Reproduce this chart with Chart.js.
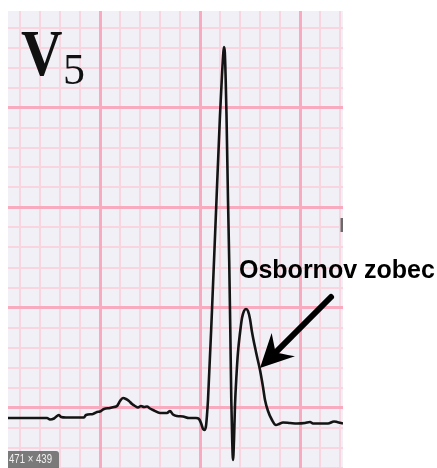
<!DOCTYPE html>
<html><head><meta charset="utf-8">
<script src="https://cdn.jsdelivr.net/npm/chart.js@4.4.1/dist/chart.umd.min.js"></script>
<style>
html,body{margin:0;padding:0;background:#fff;}
#wrap{position:relative;width:437px;height:468px;overflow:hidden;background:#fff;}
canvas{position:absolute;left:0;top:0;}
.lead{position:absolute;font-family:"Liberation Serif","Times New Roman",serif;color:#111;line-height:1;white-space:nowrap;}
#leadV{left:21px;top:20px;font-size:66px;font-weight:bold;transform:scaleX(0.87);transform-origin:0 0;}
#lead5{left:63px;top:48px;font-size:44px;}
#note{position:absolute;left:239px;top:257px;font-family:"Liberation Sans",Arial,sans-serif;font-weight:bold;font-size:25px;line-height:1;color:#000;white-space:nowrap;}
#dim{position:absolute;left:8px;top:451px;width:51px;height:17px;background:rgba(105,105,105,0.88);border-radius:0 3px 0 0;overflow:hidden;}
#dim span{position:absolute;left:1px;top:0;color:#f2f2f2;font-family:"Liberation Sans",Arial,sans-serif;font-size:12px;line-height:17px;white-space:nowrap;transform:scaleX(0.8);transform-origin:0 0;}
</style></head>
<body><div id="wrap"><canvas id="c" width="437" height="468"></canvas>
<span class="lead" id="leadV">V</span><span class="lead" id="lead5">5</span>
<div id="note">Osbornov zobec</div>
<div id="dim"><span>471 × 439</span></div>
</div>
<script>
// Time axis in mm of paper (25 mm/s), amplitude in mm (10 mm/mV)
const traceX = [0.40,1.00,1.75,2.35,2.50,2.70,2.85,2.95,3.05,3.30,3.75,4.20,4.30,4.65,4.85,5.00,5.20,5.50,5.70,5.85,6.00,6.15,6.30,6.45,6.60,6.75,6.90,7.05,7.20,7.35,7.50,7.70,8.00,8.35,8.50,8.65,8.85,9.15,9.45,9.80,9.95,10.05,10.15,10.225,10.30,10.35,10.40,10.60,10.80,11.00,11.10,11.165,11.20,11.24,11.285,11.325,11.40,11.46,11.515,11.565,11.61,11.65,11.70,11.75,11.825,11.90,12.00,12.10,12.20,12.30,12.40,12.50,12.60,12.80,13.00,13.15,13.25,13.40,13.60,13.80,13.95,14.15,14.50,14.85,15.25,15.50,15.65,16.00,16.40,16.70,16.85,17.15];
const traceY = [-0.525,-0.525,-0.525,-0.525,-0.600,-0.550,-0.425,-0.375,-0.475,-0.500,-0.500,-0.500,-0.375,-0.325,-0.225,-0.200,-0.075,-0.025,0.025,0.075,0.325,0.475,0.425,0.325,0.175,0.075,0.000,0.075,0.025,0.050,-0.050,-0.150,-0.275,-0.275,-0.175,-0.350,-0.425,-0.450,-0.525,-0.525,-0.575,-0.775,-1.075,-1.125,-0.925,-0.375,0.375,4.875,9.775,14.625,16.625,17.725,18.025,17.775,16.375,14.625,10.375,7.375,3.875,0.375,-1.625,-2.625,-1.625,0.125,1.625,2.775,3.725,4.475,4.825,4.925,4.825,4.425,3.775,2.775,1.875,1.025,0.375,-0.175,-0.625,-0.875,-0.825,-0.750,-0.775,-0.800,-0.775,-0.725,-0.800,-0.800,-0.800,-0.700,-0.725,-0.800];
// fragment of the next lead visible at the right edge
const nextX = [17.10,17.10];
const nextY = [9.475,8.775];
// paper extent (mm)
const xRange = [0.40, 17.15];
const yRange = [-3.025, 19.825];
// annotation arrow (mm): tail -> tip
const arrowTail = [16.55, 5.525];
const arrowTip = [13.00, 1.975];

const PAPER = '#f0f0f6', MINOR = '#f9d6df', MAJOR = '#f8aabe';

function intTicks(step){
  return s => {
    const t = [];
    for (let v = Math.ceil(s.min/step)*step; v <= s.max; v += step) t.push({value: v});
    s.ticks = t;
  };
}
function axis(step, color, width, z, pos){
  return {type:'linear', position:pos, display:true,
    min: pos==='bottom'?xRange[0]:yRange[0], max: pos==='bottom'?xRange[1]:yRange[1],
    ticks:{display:false}, border:{display:false},
    grid:{drawTicks:false, color:color, lineWidth:width, z:z},
    afterBuildTicks:intTicks(step)};
}
const paperPlugin = {id:'paper', beforeDraw(chart){
  const {ctx, chartArea:a} = chart;
  ctx.save(); ctx.fillStyle = PAPER; ctx.fillRect(a.left, a.top, a.right-a.left, a.bottom-a.top); ctx.restore();
}};
const arrowPlugin = {id:'arrow', afterDatasetsDraw(chart){
  const {ctx, scales:{x, y}} = chart;
  const x0 = x.getPixelForValue(arrowTail[0]), y0 = y.getPixelForValue(arrowTail[1]);
  const x1 = x.getPixelForValue(arrowTip[0]), y1 = y.getPixelForValue(arrowTip[1]);
  const dx = x1-x0, dy = y1-y0, L = Math.hypot(dx, dy), ux = dx/L, uy = dy/L, px = -uy, py = ux;
  const headL = 33, headW = 16.5, notch = 22;
  ctx.save();
  ctx.strokeStyle = '#000'; ctx.fillStyle = '#000'; ctx.lineWidth = 6; ctx.lineCap = 'round';
  ctx.beginPath(); ctx.moveTo(x0, y0); ctx.lineTo(x1-ux*(notch+2), y1-uy*(notch+2)); ctx.stroke();
  const bx = x1-ux*headL, by = y1-uy*headL;
  const nx = x1-ux*notch, ny = y1-uy*notch;
  ctx.beginPath();
  ctx.moveTo(x1, y1);
  ctx.lineTo(bx+px*headW, by+py*headW);
  ctx.quadraticCurveTo(nx+px*3-ux*2, ny+py*3-uy*2, nx, ny);
  ctx.quadraticCurveTo(nx-px*3-ux*2, ny-py*3-uy*2, bx-px*headW, by-py*headW);
  ctx.closePath(); ctx.fill();
  ctx.restore();
}};

new Chart(document.getElementById('c'), {
  type:'line',
  data:{datasets:[
    {data: traceX.map((v,i)=>({x:v, y:traceY[i]})), borderColor:'#141414', borderWidth:2.6,
     pointRadius:0, cubicInterpolationMode:'monotone', fill:false},
    {data: nextX.map((v,i)=>({x:v, y:nextY[i]})), borderColor:'#6a6a6a', borderWidth:3,
     pointRadius:0, fill:false}
  ]},
  options:{
    responsive:false, animation:false, events:[], devicePixelRatio:1,
    layout:{padding:{left:8, top:11, right:94, bottom:0}},
    plugins:{legend:{display:false}, tooltip:{enabled:false}, title:{display:false}},
    scales:{
      x: axis(1, MINOR, 2, -2, 'bottom'),
      y: axis(1, MINOR, 2, -2, 'left'),
      xMajor: axis(5, MAJOR, 3, -1, 'bottom'),
      yMajor: axis(5, MAJOR, 3, -1, 'left')
    }
  },
  plugins:[paperPlugin, arrowPlugin]
});
</script>
</body></html>
